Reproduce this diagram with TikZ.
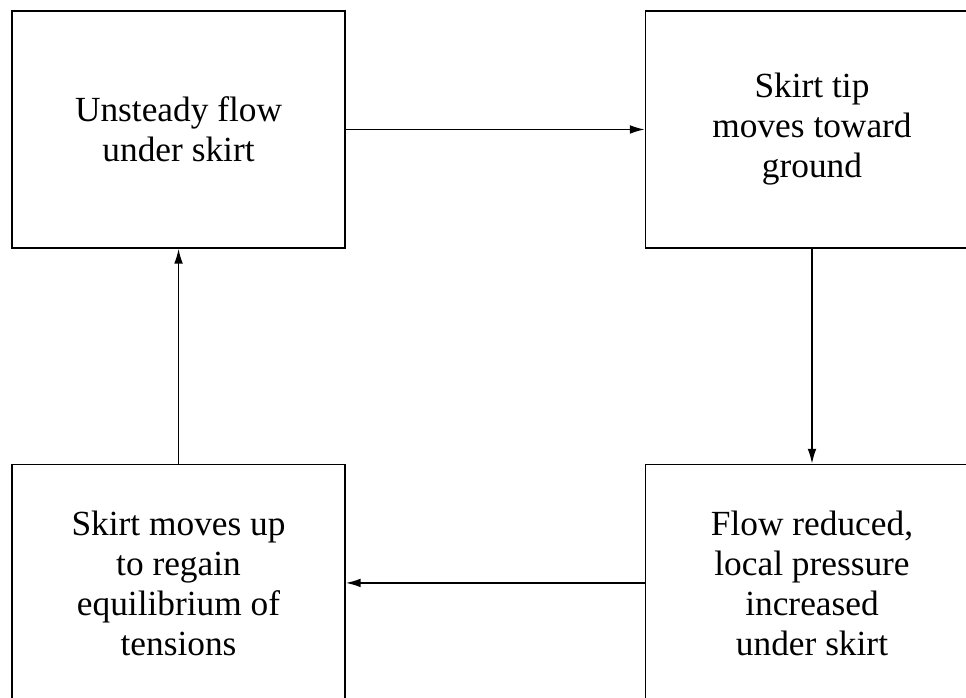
\documentclass[tikz,border=0pt]{standalone}
\usepackage{fontspec}
\setmainfont{Liberation Serif}
\usetikzlibrary{arrows.meta, positioning}

\begin{document}
\begin{tikzpicture}[
    stage/.style={draw=black, line width=1.1pt, minimum width=250pt, minimum height=178pt,
        inner sep=0pt, align=center, font=\fontsize{26.5}{30}\selectfont},
    flow/.style={-{Latex[length=11pt, width=6.5pt]}, line width=1pt}]
    \useasboundingbox (0,0) rectangle (724.5pt,-522.75pt);
    \node[stage] (unsteady) at (133.9pt,-97.1pt) {Unsteady flow\\under skirt};
    \node[stage, right=224pt of unsteady] (tip) {Skirt tip\\moves toward\\ground};
    \node[stage, below=161pt of tip] (reduced) {Flow reduced,\\local pressure\\increased\\under skirt};
    \node[stage, below=161pt of unsteady] (regain) {Skirt moves up\\to regain\\equilibrium of\\tensions};
    \draw[flow] (unsteady) -- (tip);
    \draw[flow] (tip) -- (reduced);
    \draw[flow] (reduced) -- (regain);
    \draw[flow] (regain) -- (unsteady);
\end{tikzpicture}
\end{document}
